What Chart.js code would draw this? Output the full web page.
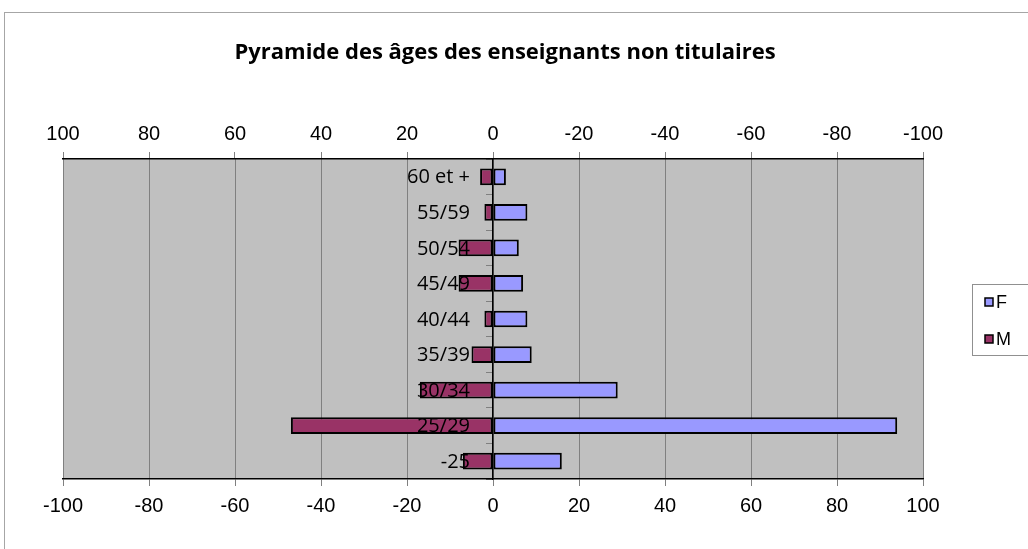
<!DOCTYPE html>
<html><head><meta charset="utf-8">
<script src="https://cdn.jsdelivr.net/npm/chart.js@4.4.1/dist/chart.umd.min.js"></script>
<style>html,body{margin:0;padding:0;background:#fff;}#wrap{width:1028px;height:549px;position:relative;}</style>
</head><body><div id="wrap"><canvas id="c" width="1028" height="549"></canvas></div>
<script>
const categories = ['60 et +', '55/59', '50/54', '45/49', '40/44', '35/39', '30/34', '25/29', '-25'];
const femmes = [3, 8, 6, 7, 8, 9, 29, 94, 16];
const hommes = [-3, -2, -8, -8, -2, -5, -17, -47, -7];
const seriesNames = ['F', 'M'];
const seriesColors = ['#9999FF', '#993366'];
const titleText = 'Pyramide des âges des enseignants non titulaires';
const axisMin = -100, axisMax = 100, axisStep = 20;

const framePlugin = {
  id: 'frame',
  beforeDraw(chart) {
    const ctx = chart.ctx, a = chart.chartArea;
    ctx.save();
    ctx.fillStyle = '#ffffff';
    ctx.fillRect(0, 0, chart.width, chart.height);
    ctx.strokeStyle = '#a6a6a6';
    ctx.lineWidth = 1;
    ctx.strokeRect(4.5, 12.5, chart.width + 20, chart.height + 20);
    ctx.fillStyle = '#c0c0c0';
    ctx.fillRect(a.left, a.top, a.right - a.left, a.bottom - a.top);
    ctx.fillStyle = '#000';
    ctx.font = 'bold 22px "Open Sans", sans-serif';
    ctx.textAlign = 'center';
    ctx.textBaseline = 'alphabetic';
    ctx.fillText(titleText, 505, 59);
    ctx.restore();
  }
};

const categoryLabelPlugin = {
  id: 'categoryLabels',
  afterDatasetsDraw(chart) {
    const ctx = chart.ctx, xs = chart.scales.x, ys = chart.scales.y;
    const x0 = xs.getPixelForValue(0);
    ctx.save();
    ctx.fillStyle = '#000';
    ctx.font = '20px "Open Sans", sans-serif';
    ctx.textAlign = 'right';
    ctx.textBaseline = 'middle';
    chart.data.labels.forEach((lab, i) => {
      ctx.fillText(lab, x0 - 23, ys.getPixelForValue(i) + 1);
    });
    ctx.restore();
  }
};

const legendPlugin = {
  id: 'sideLegend',
  afterDraw(chart) {
    const ctx = chart.ctx;
    ctx.save();
    ctx.strokeStyle = '#909090';
    ctx.lineWidth = 1;
    ctx.strokeRect(972.5, 284.5, 80, 71);
    ctx.font = '18px "Liberation Sans", Arial, sans-serif';
    ctx.textBaseline = 'middle';
    ctx.textAlign = 'left';
    const rows = [302, 339];
    chart.data.datasets.forEach((ds, i) => {
      const y = rows[i];
      ctx.fillStyle = ds.backgroundColor;
      ctx.fillRect(985, y - 4, 8, 8);
      ctx.strokeStyle = '#000';
      ctx.lineWidth = 1.5;
      ctx.strokeRect(985, y - 4, 8, 8);
      ctx.fillStyle = '#000';
      ctx.fillText(ds.label, 996, y + 1);
    });
    ctx.restore();
  }
};

const tickFont = {family: '"Liberation Sans", Arial, sans-serif', size: 20};

new Chart(document.getElementById('c'), {
  type: 'bar',
  data: {
    labels: categories,
    datasets: [
      {label: seriesNames[0], data: femmes, backgroundColor: seriesColors[0], borderColor: '#000', borderWidth: 2, borderSkipped: false, barPercentage: 0.47, categoryPercentage: 1, xAxisID: 'x', yAxisID: 'y'},
      {label: seriesNames[1], data: hommes, backgroundColor: seriesColors[1], borderColor: '#000', borderWidth: 2, borderSkipped: false, barPercentage: 0.47, categoryPercentage: 1, xAxisID: 'x', yAxisID: 'y'}
    ]
  },
  options: {
    responsive: false,
    animation: false,
    indexAxis: 'y',
    layout: {padding: {left: 63, right: 105, top: 109, bottom: 0}},
    plugins: {
      legend: {display: false},
      tooltip: {enabled: false},
      title: {display: false}
    },
    scales: {
      x: {
        axis: 'x', type: 'linear', position: 'bottom', min: axisMin, max: axisMax, stacked: true,
        ticks: {stepSize: axisStep, font: tickFont, color: '#000', padding: 8},
        grid: {color: '#808080', tickColor: '#808080', tickLength: 7, lineWidth: 1},
        border: {color: '#000', width: 1.5},
        afterFit: s => { s.height = 70; }
      },
      x2: {
        axis: 'x', type: 'linear', position: 'top', min: axisMin, max: axisMax, reverse: true,
        ticks: {stepSize: axisStep, font: tickFont, color: '#000', padding: 6},
        grid: {drawOnChartArea: false, tickColor: '#808080', tickLength: 7},
        border: {color: '#000', width: 1.5},
        afterFit: s => { s.height = 50; }
      },
      y: {
        axis: 'y', type: 'category', position: {x: 0}, stacked: true, offset: true,
        grid: {drawOnChartArea: false, offset: true, tickColor: '#808080', tickLength: 6},
        border: {color: '#000', width: 1.5, z: 1},
        ticks: {display: false}
      }
    }
  },
  plugins: [framePlugin, categoryLabelPlugin, legendPlugin]
});
</script>
</body></html>
